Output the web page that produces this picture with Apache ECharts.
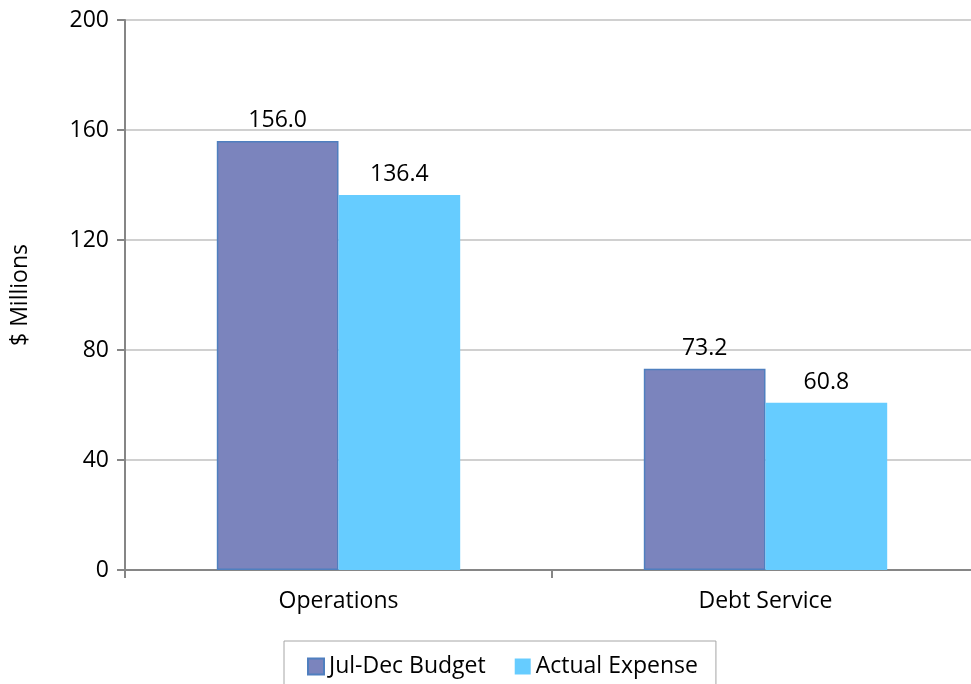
<!DOCTYPE html>
<html>
<head>
<meta charset="utf-8">
<script src="https://cdn.jsdelivr.net/npm/echarts@6/dist/echarts.min.js"></script>
<style>
  html, body { margin: 0; padding: 0; background: #fff; }
  #chart { width: 971px; height: 684px; }
</style>
</head>
<body>
<div id="chart"></div>
<script>
// Budget vs. actual expense, $ millions
const categories = ['Operations', 'Debt Service'];
const budgetValues = [156.0, 73.2];
const actualValues = [136.4, 60.8];
const seriesNames = ['Jul-Dec Budget', 'Actual Expense'];
const yTicks = [0, 40, 80, 120, 160, 200];

const FONT = '"Open Sans", "Noto Sans", sans-serif';
const FS = 23;
const chart = echarts.init(document.getElementById('chart'));

const labelStyle = {
  show: true,
  position: 'top',
  distance: 9,
  color: '#000',
  fontSize: FS,
  fontFamily: FONT,
  formatter: p => p.value.toFixed(1)
};

chart.setOption({
  animation: false,
  textStyle: { fontFamily: FONT },
  grid: {
    left: 125, width: 854, top: 20, height: 550,
    containLabel: false,
    outerBoundsMode: 'none'
  },
  legend: {
    data: seriesNames,
    left: 284,
    top: 641,
    padding: [14, 18, 14, 23],
    itemGap: 29,
    itemWidth: 16,
    itemHeight: 16,
    borderColor: '#a6a6a6',
    borderWidth: 1,
    textStyle: { fontSize: FS, color: '#000', fontFamily: FONT },
    icon: 'rect'
  },
  xAxis: {
    type: 'category',
    data: categories,
    axisLine: { lineStyle: { color: '#868686', width: 2 } },
    axisTick: { show: true, length: 8, lineStyle: { color: '#868686', width: 2 } },
    axisLabel: { color: '#000', fontSize: FS, fontFamily: FONT, margin: 20 }
  },
  yAxis: {
    type: 'value',
    min: yTicks[0],
    max: yTicks[yTicks.length - 1],
    interval: 40,
    name: '$ Millions',
    nameLocation: 'middle',
    nameGap: 93,
    nameRotate: 90,
    nameTextStyle: { color: '#000', fontSize: FS, fontFamily: FONT },
    axisLine: { show: true, lineStyle: { color: '#868686', width: 2 } },
    axisTick: { show: true, length: 8, lineStyle: { color: '#868686', width: 2 } },
    axisLabel: { color: '#000', fontSize: FS, fontFamily: FONT, margin: 16 },
    splitLine: { lineStyle: { color: '#d0d0d0', width: 2 } }
  },
  series: [
    {
      name: seriesNames[0],
      type: 'bar',
      data: budgetValues,
      barGap: '0%',
      barCategoryGap: '43%',
      itemStyle: { color: '#7b84bd', borderColor: '#4f7fbf', borderWidth: 1.5 },
      label: labelStyle
    },
    {
      name: seriesNames[1],
      type: 'bar',
      data: actualValues,
      itemStyle: { color: '#66ccff' },
      label: labelStyle
    }
  ]
});
</script>
</body>
</html>
